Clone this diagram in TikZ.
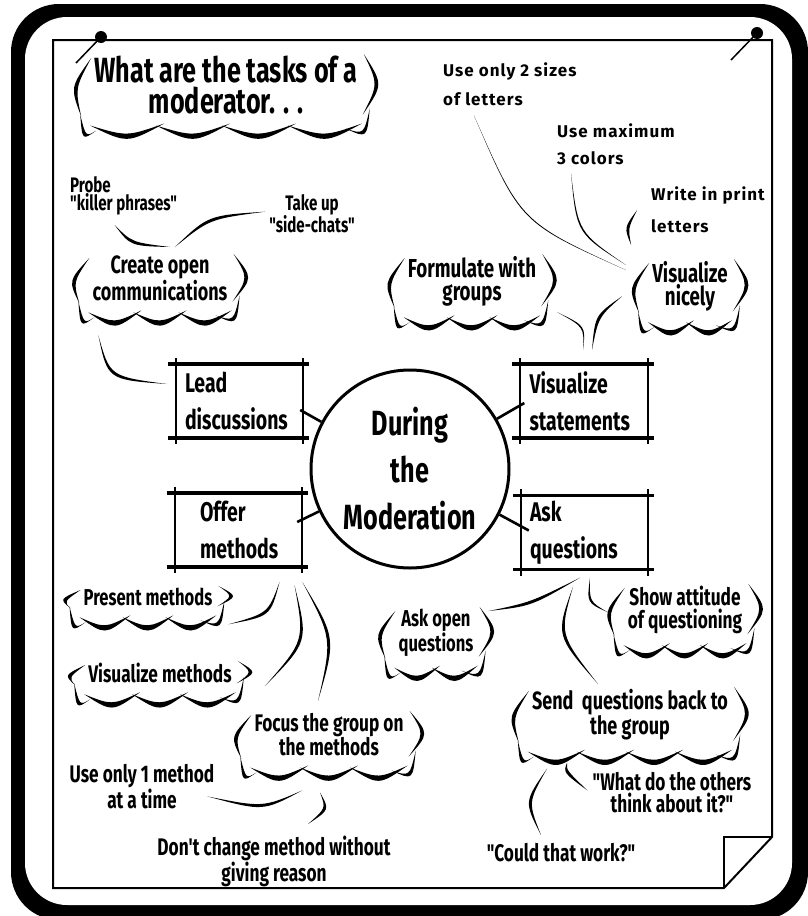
\documentclass[tikz,border=0pt]{standalone}
\usepackage{fontspec}
\newfontfamily\handfont{Fira Sans}[FakeStretch=0.72]
\newfontfamily\notefont{Fira Sans}[LetterSpace=6]
\usetikzlibrary{calc}

% tapered pen stroke: [width] start, bulge of the middle, end
\newcommand\brush[4][4pt]{%
  \coordinate (brA) at (#2);
  \coordinate (brB) at (#4);
  \coordinate (brC) at ($(brA)!.5!(brB)+(#3)$);
  \coordinate (brD) at ($(brA)!#1!90:(brB)$);
  \fill (brA) .. controls (brC) .. (brB)
    .. controls ($(brC)+(brD)-(brA)$) .. (brA) -- cycle;
}

% cloud outline round a text node: node, number of bumps
\newcommand\cloud[2]{%
  \brush[5pt]{[shift={(-3,2)}]#1.north west}{-16,0}{[shift={(-13,2)}]#1.south west}
  \brush[5pt]{[shift={(-14,0)}]#1.south west}{-6,18}{[shift={(2,16)}]#1.south west}
  \brush[5pt]{[shift={(6,-2)}]#1.north east}{15,0}{[shift={(5,0)}]#1.south east}
  \brush[5pt]{[shift={(12,-6)}]#1.south east}{6,16}{[shift={(-12,14)}]#1.south east}
  \foreach \k in {1,...,#2}{
    \pgfmathsetmacro\bumpA{(\k-1)/#2}
    \pgfmathsetmacro\bumpB{\k/#2}
    \brush[7pt]{$(#1.south west)!\bumpA!(#1.south east)+(-4,11)$}{0,19}%
      {$(#1.south west)!\bumpB!(#1.south east)+(4,9)$}
  }
}

% frame with overshooting edges
\newcommand\sketchframe[1]{%
  \draw[line width=3.5pt] ([shift={(-8,0)}]#1.north west) -- ([shift={(6,0)}]#1.north east);
  \draw[line width=3.5pt] ([shift={(-8,0)}]#1.south west) -- ([shift={(6,0)}]#1.south east);
  \draw[line width=2pt] ([shift={(0,-6)}]#1.north west) -- ([shift={(0,6)}]#1.south west);
  \draw[line width=2pt] ([shift={(0,-6)}]#1.north east) -- ([shift={(0,6)}]#1.south east);
}

\tikzset{%
  txt/.style 2 args={
    font=\handfont\bfseries\fontsize{#1}{#2}\selectfont,
    inner sep=0pt, align=center, anchor=north
  },
  note/.style={
    font=\notefont\bfseries\fontsize{17}{#1}\selectfont,
    inner sep=0pt, align=left, anchor=north west
  },
  task box/.style={
    font=\handfont\bfseries\fontsize{27}{37}\selectfont,
    align=left, minimum width=127pt, minimum height=74pt,
    inner ysep=0pt, inner xsep=9pt, text width=109pt
  },
  hub/.style={
    circle, draw, line width=3pt, minimum size=198pt, inner sep=0pt,
    align=center, font=\handfont\bfseries\fontsize{35}{47}\selectfont
  },
  spoke/.style={line width=2.6pt},
}

\begin{document}
\begin{tikzpicture}[x=1pt, y=-1pt]

\useasboundingbox (0,0) rectangle (808,916);

% board and sheet
\fill[white] (0,0) rectangle (808,916);
\fill[rounded corners=48pt] (11,4) rectangle (808,920);
\fill[white, rounded corners=42pt] (25,17) rectangle (792,905);
\draw[line width=2pt] (53,40) -- (772,40) -- (772,837) -- (724,888) -- (53,888) -- cycle;
\draw[line width=2pt] (724,888) -- (724,837) -- (772,837);

% pins
\fill (101,37) circle (6pt);
\draw[line width=1.5pt] (101,37) -- (76,63);
\fill (757,33) circle (6pt);
\draw[line width=1.5pt] (757,33) -- (731,60);

\node[txt={35}{31}] (title) at (226,56) {What are the tasks of a\\moderator. . .};

\node[note=29] (sizes) at (443,63) {Use only 2 sizes\\of letters};
\node[note=27] (colours) at (557,124) {Use maximum\\3 colors};
\node[note=32] (print) at (651,187) {Write in print\\letters};

\node[txt={21}{18}, align=left, anchor=north west] (probe) at (70,176) {Probe\\"killer phrases"};
\node[txt={21}{20}] (sidechat) at (312,194) {Take up\\"side-chats"};
\node[txt={25}{21}] (openness) at (160,256) {Create open\\communications};
\node[txt={26}{23}] (formulate) at (472,256) {Formulate with\\groups};
\node[txt={26}{23}] (nicely) at (690,261) {Visualize\\nicely};

\node[hub] (hub) at (410,469) {During\\the\\Moderation};
\node[task box] (lead) at (239.5,401) {Lead\\discussions};
\node[task box] (statements) at (584,401) {Visualize\\statements};
\node[task box, inner xsep=25pt, text width=77pt] (offer) at (238.5,530) {Offer\\methods};
\node[task box] (ask) at (584.5,532.5) {Ask\\questions};

\node[txt={23}{20}] (present) at (148,588) {Present methods};
\node[txt={24}{20}] (showmethods) at (160,663) {Visualize methods};
\node[txt={24}{19}] (focus) at (329,713) {Focus the group on\\the methods};
\node[txt={24}{19}] (onemethod) at (142,764) {Use only 1 method\\at a time};
\node[txt={24}{21}] (nochange) at (274,836) {Don't change method without\\giving reason};

\node[txt={23}{20}] (openq) at (436,609) {Ask open\\questions};
\node[txt={24}{23}] (attitude) at (685,586) {Show attitude\\of questioning};
\node[txt={25}{19}] (sendback) at (630,689) {Send\ \ questions back to\\the group};
\node[txt={24}{22}] (others) at (672,772) {"What do the others\\think about it?"};
\node[txt={24}{20}] (couldwork) at (561,843) {"Could that work?"};

\foreach \n/\b in {title/4, openness/3, formulate/3, nicely/2, present/3,
                   showmethods/3, focus/3, openq/2, attitude/3, sendback/4}
  {\cloud{\n}{\b}}

\foreach \n in {lead, statements, offer, ask}
  {\sketchframe{\n}}

\draw[spoke] ([shift={(-3,9)}]lead.east) -- (hub.152);
\draw[spoke] ([shift={(4,2)}]statements.west) -- (hub.30);
\draw[spoke] ([shift={(-5,-8)}]offer.east) -- (hub.205);
\draw[spoke] ([shift={(8,-2)}]ask.west) -- (hub.-27);

% open communications
\brush{[shift={(-9,10)}]probe.south}{-12,10}{[shift={(10,-9)}]openness.north}
\brush{[shift={(-4,-2)}]sidechat.west}{-12,-14}{[shift={(15,-9)}]openness.north}
\brush{[shift={(6,34)}]openness.south west}{-25,20}{[shift={(-9,-17)}]lead.west}

% visualizing
\brush[2pt]{[shift={(21,6)}]formulate.south east}{14,-4}{[shift={(-1,-14)}]statements.north}
\brush{[shift={(-30,-15)}]nicely.south west}{-12,-8}{[shift={(8,-14)}]statements.north}
\brush[1.2pt]{[shift={(31,9)}]sizes.south west}{-30,30}{[shift={(-26,-16)}]nicely.west}
\brush[2pt]{[shift={(14,8)}]colours.south west}{-22,14}{[shift={(-26,-21)}]nicely.west}
\brush{[shift={(-14,0)}]print.west}{-10,0}{[shift={(-21,-16)}]nicely.north west}

% methods
\brush{[shift={(41,15)}]offer.south}{14,10}{[shift={(16,18)}]present.south east}
\brush{[shift={(56,18)}]offer.south}{25,5}{[shift={(33,13)}]showmethods.east}
\brush{[shift={(64,15)}]offer.south}{22,-3}{[shift={(-11,-12)}]focus.north}
\brush{[shift={(-27,34)}]focus.south}{8,14}{[shift={(-7,10)}]onemethod.east}
\brush{[shift={(-9,36)}]focus.south}{12,0}{[shift={(34,-12)}]nochange.north}

% questions
\brush{[shift={(-4.5,8)}]ask.south}{-4,8}{[shift={(15,2)}]openq.north east}
\brush[3pt]{[shift={(5.5,8)}]ask.south}{-12,8}{[shift={(-20,2)}]attitude.west}
\brush{[shift={(-11.5,17)}]ask.south}{-30,0}{[shift={(-32,-5)}]sendback.north}
\brush{[shift={(-63,22)}]sendback.south}{-14,-4}{[shift={(-5,-2)}]others.west}
\brush{[shift={(-83,28)}]sendback.south}{-20,0}{[shift={(-20,-8)}]couldwork.north}

\end{tikzpicture}
\end{document}
